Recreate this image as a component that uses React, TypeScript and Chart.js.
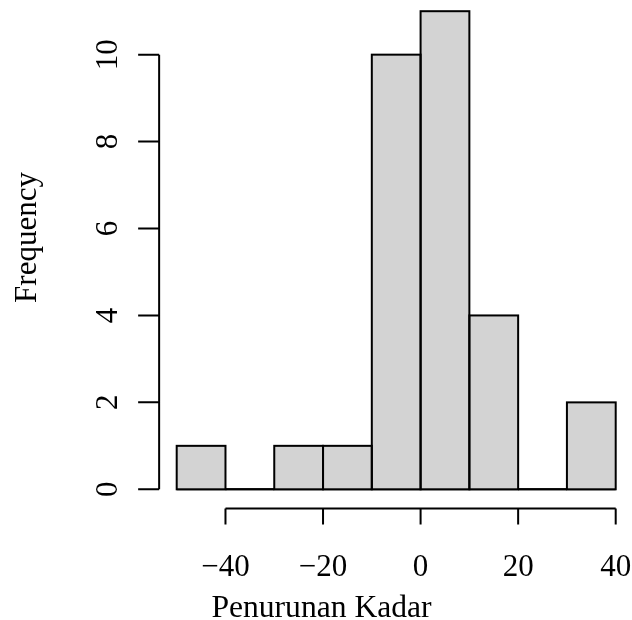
import React, { useEffect, useRef } from "react";
import { Chart, registerables } from "chart.js";

Chart.register(...registerables);

const breaks = [-50, -40, -30, -20, -10, 0, 10, 20, 30, 40];
const counts = [1, 0, 1, 1, 10, 11, 4, 0, 2];
const xTicks = [-40, -20, 0, 20, 40];
const xTickLabels = ["\u221240", "\u221220", "0", "20", "40"];
const yTicks = [0, 2, 4, 6, 8, 10];
const yTickLabels = ["0", "2", "4", "6", "8", "10"];
const xTitle = "Penurunan Kadar";
const yTitle = "Frequency";

const FONT = "31px 'Liberation Serif', 'Times New Roman', serif";
const TITLE_FONT = "31.6px 'Liberation Serif', 'Times New Roman', serif";

const rAxesPlugin = {
  id: "rAxes",
  beforeDatasetsDraw(chart: any) {
    const ctx = chart.ctx;
    const xs = chart.scales.x;
    const ys = chart.scales.y;
    ctx.save();
    ctx.strokeStyle = "#000";
    ctx.lineWidth = 2;
    ctx.beginPath();
    ctx.moveTo(xs.getPixelForValue(breaks[0]), ys.getPixelForValue(0));
    ctx.lineTo(xs.getPixelForValue(breaks[breaks.length - 1]), ys.getPixelForValue(0));
    ctx.stroke();
    ctx.restore();
  },
  afterDatasetsDraw(chart: any) {
    const ctx = chart.ctx;
    const xs = chart.scales.x;
    const ys = chart.scales.y;
    const meta = chart.getDatasetMeta(0);
    ctx.save();
    ctx.strokeStyle = "#000";
    ctx.lineWidth = 2;
    meta.data.forEach((bar: any) => {
      const { x, y, base, width } = bar.getProps(["x", "y", "base", "width"], true);
      ctx.strokeRect(x - width / 2, y, width, base - y);
    });

    const xRange = breaks[breaks.length - 1] - breaks[0];
    const axisX = xs.getPixelForValue(breaks[0] - 0.04 * xRange);
    const yMax = Math.max(...counts);
    const axisY = ys.getPixelForValue(-0.04 * yMax);

    ctx.beginPath();
    ctx.moveTo(xs.getPixelForValue(xTicks[0]), axisY);
    ctx.lineTo(xs.getPixelForValue(xTicks[xTicks.length - 1]), axisY);
    xTicks.forEach((t) => {
      const px = xs.getPixelForValue(t);
      ctx.moveTo(px, axisY);
      ctx.lineTo(px, axisY + 16);
    });
    ctx.moveTo(axisX, ys.getPixelForValue(yTicks[0]));
    ctx.lineTo(axisX, ys.getPixelForValue(yTicks[yTicks.length - 1]));
    yTicks.forEach((t) => {
      const py = ys.getPixelForValue(t);
      ctx.moveTo(axisX, py);
      ctx.lineTo(axisX - 21, py);
    });
    ctx.stroke();

    ctx.fillStyle = "#000";
    ctx.font = FONT;
    ctx.textAlign = "center";
    ctx.textBaseline = "alphabetic";
    xTicks.forEach((t, i) => {
      ctx.fillText(xTickLabels[i], xs.getPixelForValue(t), axisY + 68);
    });
    yTicks.forEach((t, i) => {
      ctx.save();
      ctx.translate(axisX - 42, ys.getPixelForValue(t));
      ctx.rotate(-Math.PI / 2);
      ctx.fillText(yTickLabels[i], 0, 0);
      ctx.restore();
    });
    ctx.save();
    ctx.translate(35.5, 237.5);
    ctx.rotate(-Math.PI / 2);
    ctx.fillText(yTitle, 0, 0);
    ctx.restore();
    ctx.font = TITLE_FONT;
    ctx.fillText(xTitle, 321.5, 617.3);
    ctx.restore();
  },
};

export default function App() {
  const ref = useRef<HTMLCanvasElement>(null);
  useEffect(() => {
    if (!ref.current) return;
    const data = counts.map((c, i) => ({ x: (breaks[i] + breaks[i + 1]) / 2, y: c }));
    const chart = new Chart(ref.current, {
      type: "bar",
      data: {
        datasets: [
          {
            data,
            backgroundColor: "#D3D3D3",
            borderWidth: 0,
            barPercentage: 1,
            categoryPercentage: 1,
            inflateAmount: 0,
          } as any,
        ],
      },
      options: {
        responsive: false,
        animation: false,
        devicePixelRatio: 1,
        layout: { padding: { left: 176.7, right: 16.3, top: 11.2, bottom: 130.7 } },
        scales: {
          x: { type: "linear", min: breaks[0], max: breaks[breaks.length - 1], offset: false, display: false },
          y: { min: 0, max: 11, display: false },
        },
        plugins: { legend: { display: false }, tooltip: { enabled: false } },
      },
      plugins: [rAxesPlugin],
    });
    return () => chart.destroy();
  }, []);
  return (
    <div style={{ position: "absolute", left: 0, top: 0, width: 632, height: 620, background: "#fff" }}>
      <canvas ref={ref} width={632} height={620} style={{ display: "block" }} />
    </div>
  );
}
